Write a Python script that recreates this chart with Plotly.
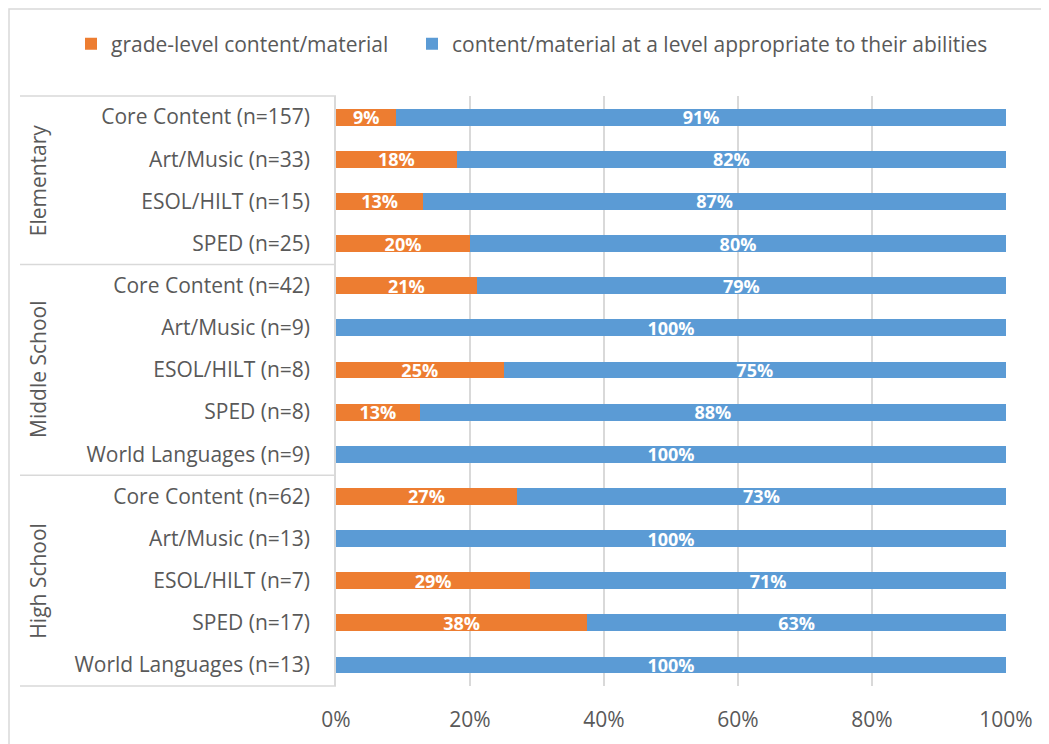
import plotly.graph_objects as go

categories = [
    "Core Content (n=157)", "Art/Music (n=33)", "ESOL/HILT (n=15)", "SPED (n=25)",
    "Core Content (n=42)", "Art/Music (n=9)", "ESOL/HILT (n=8)", "SPED (n=8)", "World Languages (n=9)",
    "Core Content (n=62)", "Art/Music (n=13)", "ESOL/HILT (n=7)", "SPED (n=17)", "World Languages (n=13)",
]
groups = ["Elementary", "Middle School", "High School"]
group_sizes = [4, 5, 5]

grade_level = [9, 18, 13, 20, 21, 0, 25, 12.5, 0, 27, 0, 29, 37.5, 0]
appropriate = [91, 82, 87, 80, 79, 100, 75, 87.5, 100, 73, 100, 71, 62.5, 100]
grade_labels = ["9%", "18%", "13%", "20%", "21%", "", "25%", "13%", "", "27%", "", "29%", "38%", ""]
approp_labels = ["91%", "82%", "87%", "80%", "79%", "100%", "75%", "88%", "100%", "73%", "100%", "71%", "63%", "100%"]

ORANGE = "#ED7D31"
BLUE = "#5B9BD5"
FONT = "Open Sans"
GRID = "#D9D9D9"
TXT = "#595959"
FS = 21

fig = go.Figure()
fig.add_trace(go.Bar(
    y=categories, x=grade_level, orientation="h", name="grade-level content/material",
    marker=dict(color=ORANGE, line=dict(width=0)), text=grade_labels,
    textposition="inside", insidetextanchor="middle", constraintext="none",
    textfont=dict(family=FONT, size=18, color="white", weight="bold"),
    hoverinfo="skip", legend="legend",
))
fig.add_trace(go.Bar(
    y=categories, x=appropriate, orientation="h", name="content/material at a level appropriate to their abilities",
    marker=dict(color=BLUE, line=dict(width=0)), text=approp_labels,
    textposition="inside", insidetextanchor="middle", constraintext="none",
    textfont=dict(family=FONT, size=18, color="white", weight="bold"),
    hoverinfo="skip", legend="legend2",
))

OFF = 8  # page offset of the figure
W, H = 1049, 744
pw, ph = 670, 590
L, T = 336 - OFF, 96 - OFF
R = W - L - pw
B = H - T - ph

def px_x(sx):
    return (sx - OFF - L) / pw

def px_y(sy):
    return (T + ph - (sy - OFF)) / ph

n = len(categories)
shapes = []
bounds = [0]
for s in group_sizes:
    bounds.append(bounds[-1] + s)
for b in bounds:
    yv = 1 - b / n
    shapes.append(dict(type="line", xref="paper", yref="paper", x0=px_x(20), x1=0, y0=yv, y1=yv,
                       line=dict(color=GRID, width=1.5)))
shapes.append(dict(type="rect", xref="paper", yref="paper", x0=px_x(9), x1=px_x(1070), y0=px_y(9), y1=px_y(770),
                   line=dict(color=GRID, width=1.5), layer="below"))

annotations = []
for i, g in enumerate(groups):
    c = (bounds[i] + bounds[i + 1]) / 2
    annotations.append(dict(xref="paper", yref="paper", x=px_x(38), y=1 - c / n, text=g, textangle=-90,
                            showarrow=False, xanchor="center", yanchor="middle",
                            font=dict(family=FONT, size=FS, color=TXT)))

legend_common = dict(orientation="h", xanchor="left", y=px_y(44), yanchor="middle",
                     font=dict(family=FONT, size=FS, color=TXT), bgcolor="rgba(0,0,0,0)")

fig.update_layout(
    template="none",
    barmode="stack",
    bargap=0.6,
    width=W, height=H,
    margin=dict(l=L, r=R, t=T, b=B, autoexpand=False),
    paper_bgcolor="white", plot_bgcolor="white",
    font=dict(family=FONT, color=TXT),
    showlegend=True,
    uniformtext=dict(minsize=18, mode="show"),
    legend=dict(x=px_x(71), **legend_common),
    legend2=dict(x=px_x(412), **legend_common),
    xaxis=dict(range=[0, 100], tickvals=[0, 20, 40, 60, 80, 100], ticktext=["0%", "20%", "40%", "60%", "80%", "100%"],
               showgrid=True, gridcolor=GRID, gridwidth=1.5, zeroline=False, showline=False,
               ticks="outside", ticklen=15, tickcolor="rgba(0,0,0,0)",
               tickfont=dict(family=FONT, size=FS, color=TXT), automargin=False, fixedrange=True),
    yaxis=dict(type="category", categoryorder="array", categoryarray=categories, range=[n - 0.5, -0.5],
               showline=True, linecolor=GRID, linewidth=1.5, ticks="outside", ticklen=20, tickcolor="rgba(0,0,0,0)",
               showgrid=False, automargin=False,
               tickfont=dict(family=FONT, size=FS, color=TXT), fixedrange=True),
    shapes=shapes,
    annotations=annotations,
)

fig.write_html("out.html")
